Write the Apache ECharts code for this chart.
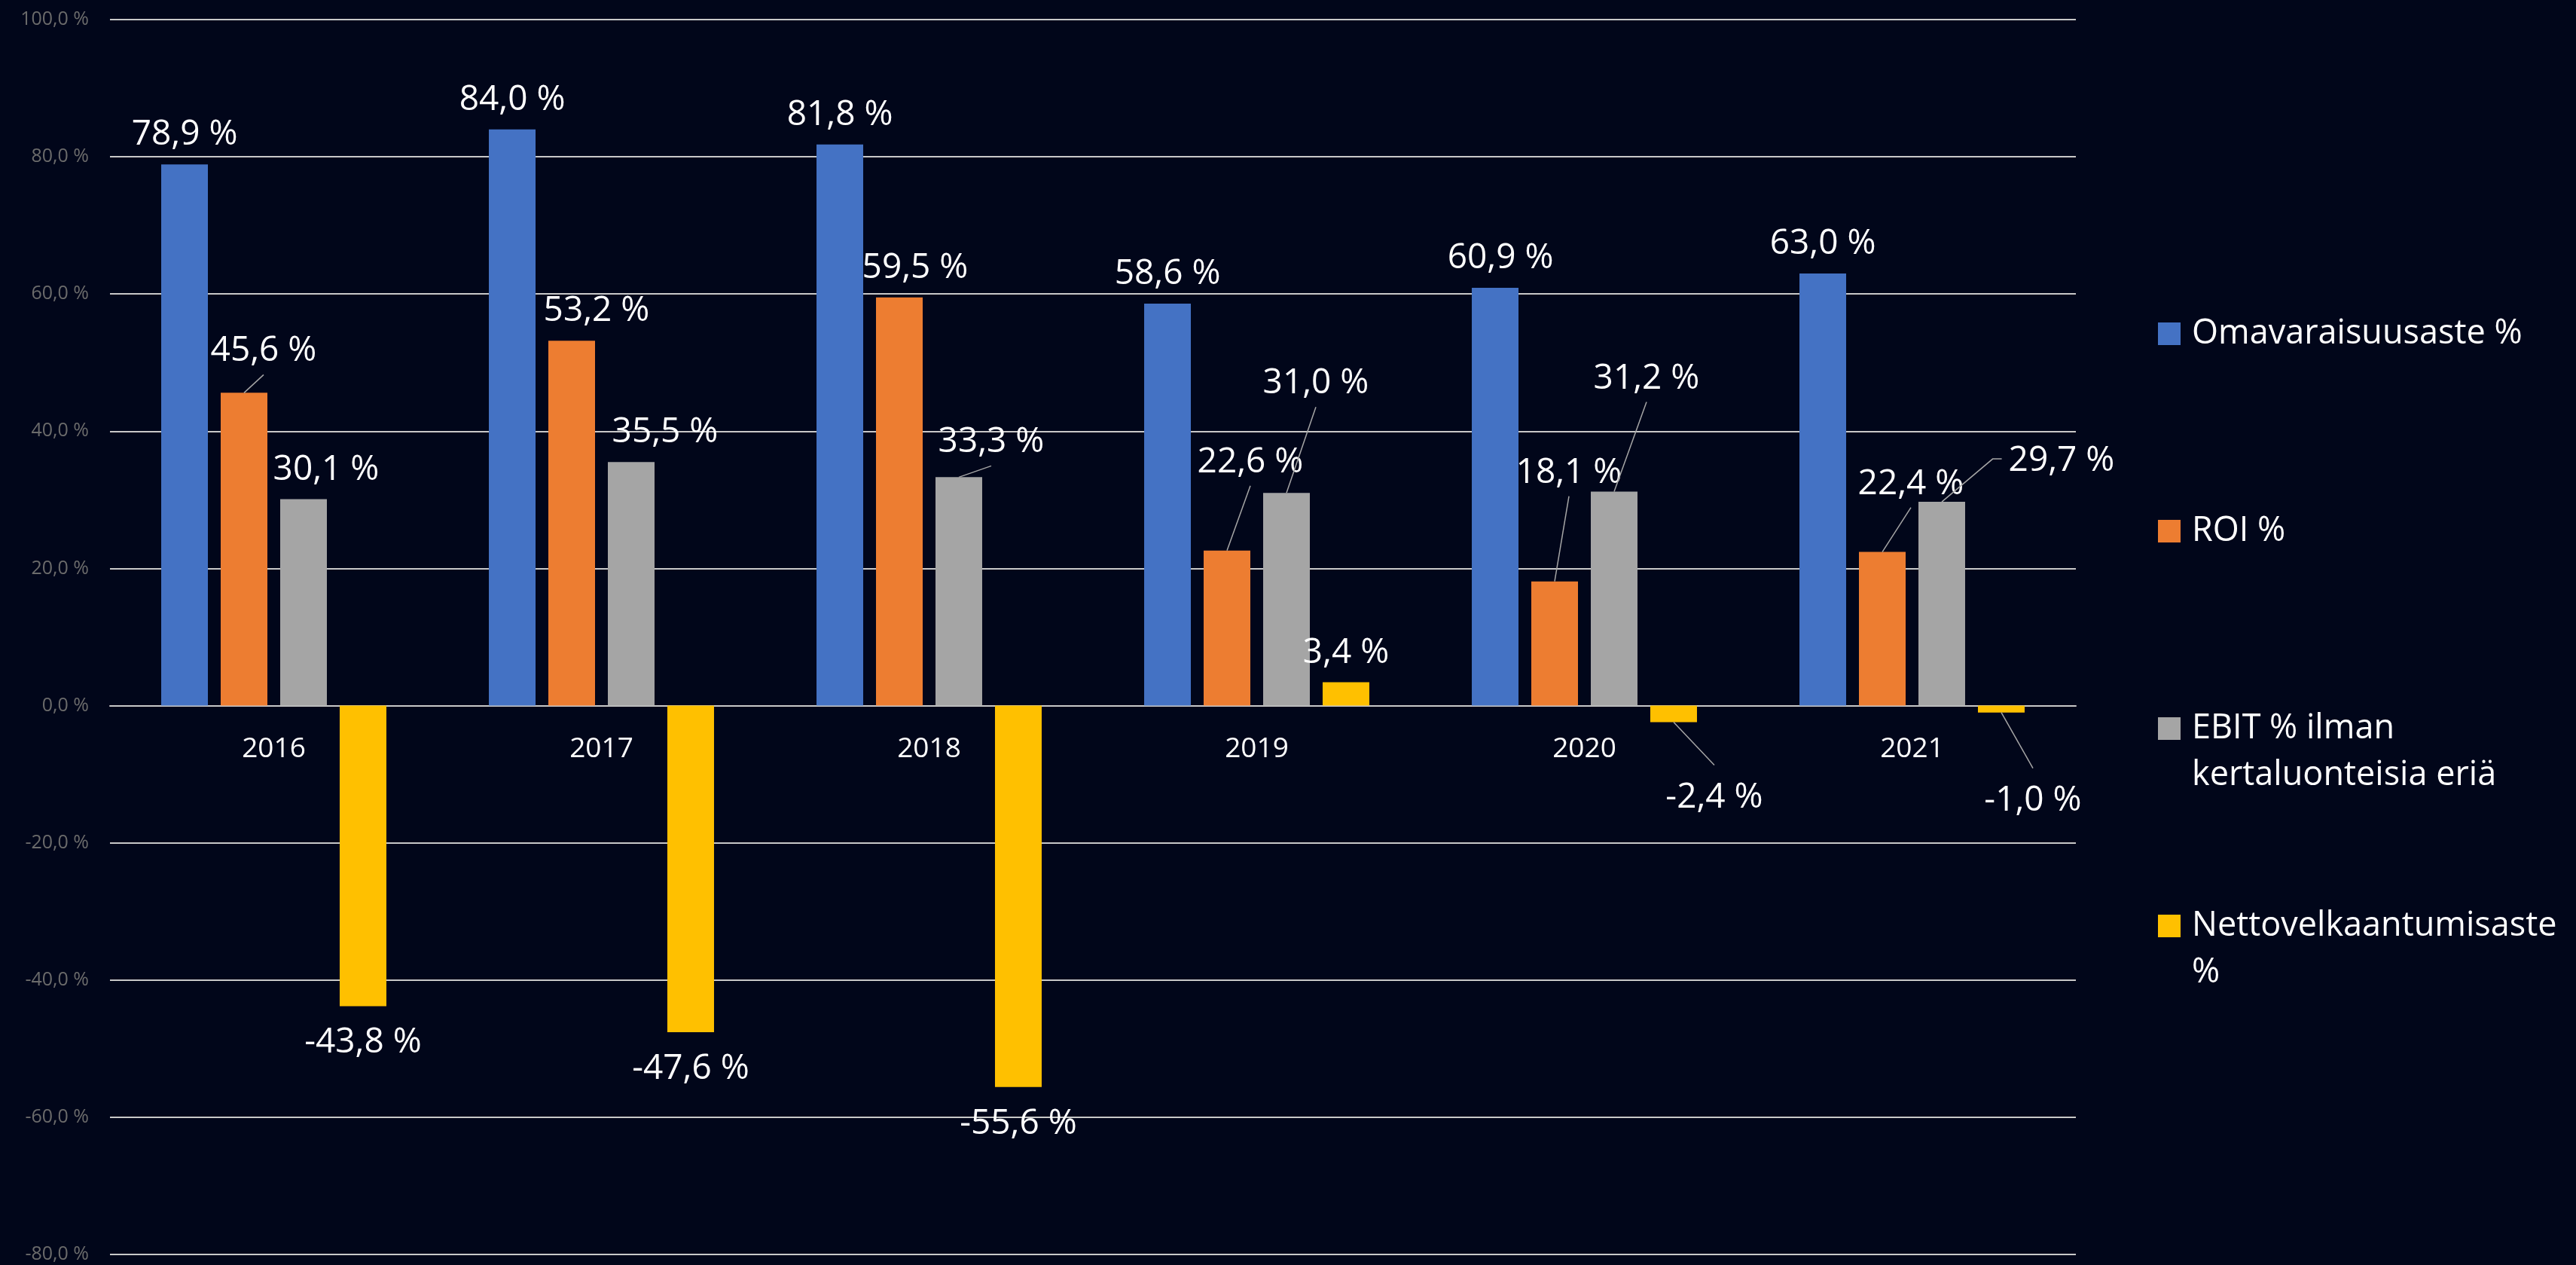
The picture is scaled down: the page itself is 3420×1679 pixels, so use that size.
<!DOCTYPE html>
<html>
<head>
<meta charset="utf-8">
<script src="https://cdn.jsdelivr.net/npm/echarts@6/dist/echarts.min.js"></script>
<style>
html,body{margin:0;padding:0;background:#01061a;}
#chart{width:3420px;height:1679px;}
</style>
</head>
<body>
<div id="chart"></div>
<script>
// ---- data ----
var years = ['2016', '2017', '2018', '2019', '2020', '2021'];
var seriesNames = ['Omavaraisuusaste %', 'ROI %', 'EBIT % ilman kertaluonteisia eriä', 'Nettovelkaantumisaste %'];
var omavaraisuusaste = [78.9, 84.0, 81.8, 58.6, 60.9, 63.0];
var roi = [45.6, 53.2, 59.5, 22.6, 18.1, 22.4];
var ebit = [30.1, 35.5, 33.3, 31.0, 31.2, 29.7];
var nettovelka = [-43.8, -47.6, -55.6, 3.4, -2.4, -1.0];
var yMin = -80, yMax = 100, yStep = 20;

// ---- styles / label placement (pixels, not data) ----
var colors = ['#4472C4', '#ED7D31', '#A5A5A5', '#FFC000'];
var labelShift = [
  [[0,0],[0,0],[0,0],[0,0],[7,0],[0,0]],
  [[26,-16],[33,0],[21,0],[31,-78],[19,-105],[38,-51]],
  [[30,0],[45,0],[43,-7],[39,-106],[43,-111],[159,-15]],
  [[0,0],[0,0],[0,0],[0,0],[54,51],[42,68]]
];
var leader = [
  [0,0,0,0,0,0],
  [1,0,0,1,1,1],
  [0,0,1,1,1,'left'],
  [0,0,0,0,1,1]
];
var legendLabel = {
  'Omavaraisuusaste %': 'Omavaraisuusaste %',
  'ROI %': 'ROI %',
  'EBIT % ilman kertaluonteisia eriä': '\nEBIT % ilman\nkertaluonteisia eriä',
  'Nettovelkaantumisaste %': '\nNettovelkaantumisaste\n%'
};
var legendTop = [412, 674, 874, 1136];

var gridLeft = 146, gridRight = 664, gridTop = 26, gridBottom = 14, chartH = 1679;

function fmt(v) { return v.toFixed(1).replace('.', ',') + ' %'; }

var allValues = [omavaraisuusaste, roi, ebit, nettovelka];
var leaderPoints = {};

var chart = echarts.init(document.getElementById('chart'), null, {renderer: 'canvas'});

var series = allValues.map(function (vals, s) {
  return {
    name: seriesNames[s],
    type: 'bar',
    barWidth: 62,
    barGap: '27.4%',
    itemStyle: {color: colors[s]},
    emphasis: {disabled: true},
    label: {
      show: true,
      position: 'top',
      distance: 16,
      color: '#ffffff',
      fontFamily: 'Open Sans',
      fontSize: 46,
      lineHeight: 46,
      formatter: function (p) { return fmt(p.value); }
    },
    labelLayout: function (params) {
      var sh = labelShift[params.seriesIndex][params.dataIndex];
      var lr = params.labelRect, r = params.rect;
      var cx = lr.x + lr.width / 2 + sh[0];
      var cy = lr.y + lr.height / 2 + sh[1];
      var ld = leader[params.seriesIndex][params.dataIndex];
      var val = allValues[params.seriesIndex][params.dataIndex];
      var bx = r.x + r.width / 2;
      var key = params.seriesIndex + '_' + params.dataIndex;
      if (ld === 'left') {
        var left = cx - lr.width / 2;
        leaderPoints[key] = [[bx, r.y], [left - 21, cy - 3], [left - 9, cy - 3]];
      } else if (ld) {
        if (val >= 0) {
          leaderPoints[key] = [[bx, r.y], [cx, cy + lr.height / 2 + 8]];
        } else {
          leaderPoints[key] = [[bx, r.y + r.height], [cx, cy - lr.height / 2 - 20]];
        }
      }
      return {x: cx, y: cy, align: 'center', verticalAlign: 'middle'};
    },
    data: vals.map(function (v) {
      var item = {value: v};
      if (v < 0) item.label = {position: 'bottom', distance: 26};
      return item;
    })
  };
});

var legends = seriesNames.map(function (name, i) {
  return {
    data: [name],
    orient: 'vertical',
    left: 2865,
    top: legendTop[i],
    padding: 0,
    icon: 'rect',
    itemWidth: 30,
    itemHeight: 30,
    formatter: function (n) { return legendLabel[n]; },
    textStyle: {
      color: '#ffffff',
      fontFamily: 'Open Sans',
      fontSize: 45,
      lineHeight: 62,
      padding: [0, 0, 0, 10]
    }
  };
});

// distance (px) from the bottom of the plot up to the zero line
var plotH = chartH - gridTop - gridBottom;
var zeroOffset = -plotH * (0 - yMin) / (yMax - yMin);

chart.setOption({
  backgroundColor: '#01061a',
  animation: false,
  grid: {left: gridLeft, right: gridRight, top: gridTop, bottom: gridBottom, containLabel: false, outerBoundsMode: 'none'},
  legend: legends,
  xAxis: {
    type: 'category',
    data: years,
    position: 'bottom',
    offset: zeroOffset,
    axisTick: {show: false},
    axisLine: {show: true, onZero: false, lineStyle: {color: '#c8c8c8', width: 2}},
    axisLabel: {color: '#ffffff', fontFamily: 'Open Sans', fontSize: 37, lineHeight: 37, margin: 39},
    splitLine: {show: false}
  },
  yAxis: {
    type: 'value',
    min: yMin,
    max: yMax,
    interval: yStep,
    axisLine: {show: false},
    axisTick: {show: false},
    axisLabel: {
      color: '#6b6b6b',
      fontFamily: 'Open Sans',
      fontSize: 25,
      margin: 28,
      formatter: function (v) { return fmt(v); }
    },
    splitLine: {show: true, lineStyle: {color: '#c8c8c8', width: 2}}
  },
  series: series
});

// leader lines, anchored to the bar rectangles laid out by ECharts
var leaderGraphics = Object.keys(leaderPoints).map(function (k) {
  return {
    type: 'polyline',
    id: 'leader_' + k,
    silent: true,
    z: 10,
    shape: {points: leaderPoints[k]},
    style: {stroke: '#a6a6a6', lineWidth: 1.5, fill: null}
  };
});
chart.setOption({graphic: leaderGraphics});
</script>
</body>
</html>
